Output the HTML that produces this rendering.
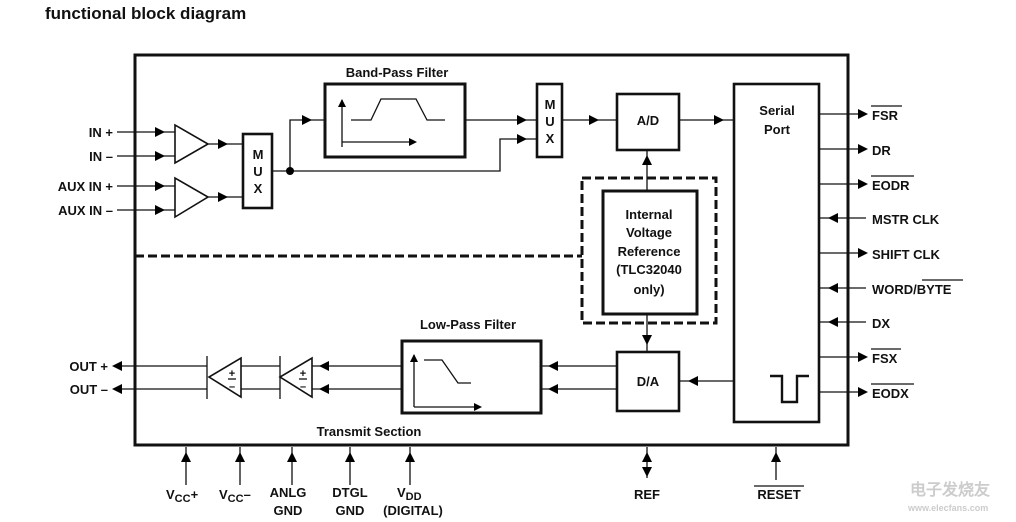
<!DOCTYPE html>
<html><head><meta charset="utf-8"><style>
body{margin:0;background:#fff;}
svg{display:block;font-family:"Liberation Sans",Arial,sans-serif;font-weight:bold;}
</style></head><body>
<svg width="1016" height="522" viewBox="0 0 1016 522" xmlns="http://www.w3.org/2000/svg">
<text x="45" y="19" font-size="17" fill="#111">functional block diagram</text>
<g fill="none" stroke="#111" stroke-width="1.3">
<rect x="135" y="55" width="713" height="390" stroke-width="3"/>
<line x1="117" y1="132" x2="175" y2="132"/><line x1="117" y1="156" x2="175" y2="156"/>
<line x1="117" y1="186" x2="175" y2="186"/><line x1="117" y1="210" x2="175" y2="210"/>
<polygon points="175,125 175,163 208,144" stroke-width="1.6"/>
<polygon points="175,178 175,217 208,197" stroke-width="1.6"/>
<line x1="208" y1="144" x2="243" y2="144"/><line x1="208" y1="197" x2="243" y2="197"/>
<rect x="243" y="134" width="29" height="74" stroke-width="2.6"/>
<polyline points="272,171 290,171 290,120 325,120"/>
<polyline points="290,171 500,171 500,139 537,139"/>
<rect x="325" y="84" width="140" height="73" stroke-width="3"/>
<polyline points="342,147 342,100"/><polyline points="342,142 409,142"/>
<polyline points="351,120 371,120 381,99 416,99 427,120 445,120"/>
<line x1="465" y1="120" x2="537" y2="120"/>
<rect x="537" y="84" width="25" height="73" stroke-width="2.6"/>
<line x1="562" y1="120" x2="617" y2="120"/>
<rect x="617" y="94" width="62" height="56" stroke-width="2.6"/>
<line x1="679" y1="120" x2="734" y2="120"/>
<rect x="734" y="84" width="85" height="338" stroke-width="2.6"/>
<line x1="135" y1="256" x2="582" y2="256" stroke-width="3" stroke-dasharray="9,4"/>
<rect x="582" y="178" width="134" height="145" stroke-width="3" stroke-dasharray="9,4"/>
<rect x="603" y="191" width="94" height="123" stroke-width="3"/>
<line x1="647" y1="191" x2="647" y2="150"/><line x1="647" y1="314" x2="647" y2="352"/>
<rect x="617" y="352" width="62" height="59" stroke-width="2.6"/>
<line x1="734" y1="381" x2="679" y2="381"/>
<line x1="617" y1="366" x2="541" y2="366"/><line x1="617" y1="389" x2="541" y2="389"/>
<rect x="402" y="341" width="139" height="72" stroke-width="3"/>
<line x1="414" y1="407" x2="480" y2="407"/><line x1="414" y1="407" x2="414" y2="355"/>
<polyline points="424,360 442,360 458,383 471,383"/>
<line x1="402" y1="366" x2="312" y2="366"/><line x1="402" y1="389" x2="312" y2="389"/>
<polygon points="312,358 312,397 280,377" stroke-width="1.6"/>
<line x1="280" y1="356" x2="280" y2="399"/>
<line x1="280" y1="366" x2="241" y2="366"/><line x1="280" y1="389" x2="241" y2="389"/>
<polygon points="241,358 241,397 209,377" stroke-width="1.6"/>
<line x1="207" y1="356" x2="207" y2="399"/>
<line x1="207" y1="366" x2="118" y2="366"/><line x1="207" y1="389" x2="118" y2="389"/>
<polyline points="770,376 782,376 782,402 797,402 797,376 809,376" stroke-width="2.4"/>
<line x1="819" y1="114" x2="866" y2="114"/><line x1="819" y1="149" x2="866" y2="149"/>
<line x1="819" y1="184" x2="866" y2="184"/><line x1="819" y1="218" x2="866" y2="218"/>
<line x1="819" y1="253" x2="866" y2="253"/><line x1="819" y1="288" x2="866" y2="288"/>
<line x1="819" y1="322" x2="866" y2="322"/><line x1="819" y1="357" x2="866" y2="357"/>
<line x1="819" y1="392" x2="866" y2="392"/>
<line x1="186" y1="485" x2="186" y2="447"/><line x1="240" y1="485" x2="240" y2="447"/>
<line x1="292" y1="485" x2="292" y2="447"/><line x1="350" y1="485" x2="350" y2="447"/>
<line x1="410" y1="485" x2="410" y2="447"/>
<line x1="647" y1="447" x2="647" y2="478"/><line x1="776" y1="447" x2="776" y2="480"/>
<line x1="228" y1="379" x2="236" y2="379"/><line x1="299" y1="379" x2="307" y2="379"/>
</g>
<g fill="#000">
<path d="M155,127l10,5l-10,5z M155,151l10,5l-10,5z M155,181l10,5l-10,5z M155,205l10,5l-10,5z"/>
<path d="M218,139l10,5l-10,5z M218,192l10,5l-10,5z"/>
<path d="M302,115l10,5l-10,5z M517,115l10,5l-10,5z M517,134l10,5l-10,5z"/>
<path d="M589,115l10,5l-10,5z M714,115l10,5l-10,5z"/>
<path d="M858,109l10,5l-10,5z M858,144l10,5l-10,5z M858,179l10,5l-10,5z M858,248l10,5l-10,5z M858,352l10,5l-10,5z M858,387l10,5l-10,5z"/>
<path d="M828,218l10,-5l0,10z M828,288l10,-5l0,10z M828,322l10,-5l0,10z"/>
<path d="M688,381l10,-5l0,10z M548,366l10,-5l0,10z M548,389l10,-5l0,10z"/>
<path d="M319,366l10,-5l0,10z M319,389l10,-5l0,10z M112,366l10,-5l0,10z M112,389l10,-5l0,10z"/>
<path d="M642,165l5,-10l5,10z M642,335l5,10l5,-10z M338,107l4,-8l4,8z M409,138l8,4l-8,4z M410,362l4,-8l4,8z M474,403l8,4l-8,4z"/>
<path d="M181,462l5,-10l5,10z M235,462l5,-10l5,10z M287,462l5,-10l5,10z M345,462l5,-10l5,10z M405,462l5,-10l5,10z"/>
<path d="M642,462l5,-10l5,10z M642,467l5,10l5,-10z M771,462l5,-10l5,10z"/>
<circle cx="290" cy="171" r="4"/>
</g>
<g font-size="13" fill="#111">
<text x="113" y="137" text-anchor="end">IN +</text>
<text x="113" y="161" text-anchor="end">IN –</text>
<text x="113" y="191" text-anchor="end">AUX IN +</text>
<text x="113" y="215" text-anchor="end">AUX IN –</text>
<text x="108" y="371" text-anchor="end">OUT +</text>
<text x="108" y="394" text-anchor="end">OUT –</text>
<text x="232" y="377" text-anchor="middle" font-size="11">+</text>
<text x="232" y="390" text-anchor="middle" font-size="11">–</text>
<text x="303" y="377" text-anchor="middle" font-size="11">+</text>
<text x="303" y="390" text-anchor="middle" font-size="11">–</text>
<text x="258" y="159" text-anchor="middle">M</text>
<text x="258" y="176" text-anchor="middle">U</text>
<text x="258" y="193" text-anchor="middle">X</text>
<text x="550" y="109" text-anchor="middle">M</text>
<text x="550" y="126" text-anchor="middle">U</text>
<text x="550" y="143" text-anchor="middle">X</text>
<text x="397" y="77" text-anchor="middle">Band-Pass Filter</text>
<text x="468" y="329" text-anchor="middle">Low-Pass Filter</text>
<text x="369" y="436" text-anchor="middle">Transmit Section</text>
<text x="648" y="125" text-anchor="middle">A/D</text>
<text x="648" y="386" text-anchor="middle">D/A</text>
<text x="777" y="115" text-anchor="middle">Serial</text>
<text x="777" y="134" text-anchor="middle">Port</text>
<text x="649" y="219" text-anchor="middle">Internal</text>
<text x="649" y="237" text-anchor="middle">Voltage</text>
<text x="649" y="256" text-anchor="middle">Reference</text>
<text x="649" y="274" text-anchor="middle">(TLC32040</text>
<text x="649" y="294" text-anchor="middle">only)</text>
<text x="872" y="120">FSR</text>
<text x="872" y="155">DR</text>
<text x="872" y="190">EODR</text>
<text x="872" y="224">MSTR CLK</text>
<text x="872" y="259">SHIFT CLK</text>
<text x="872" y="294">WORD/BYTE</text>
<text x="872" y="328">DX</text>
<text x="872" y="363">FSX</text>
<text x="872" y="398">EODX</text>
<text x="166" y="499">V<tspan font-size="11" dy="3">CC</tspan><tspan dy="-3">+</tspan></text>
<text x="219" y="499">V<tspan font-size="11" dy="3">CC</tspan><tspan dy="-3">–</tspan></text>
<text x="288" y="497" text-anchor="middle">ANLG</text>
<text x="288" y="515" text-anchor="middle">GND</text>
<text x="350" y="497" text-anchor="middle">DTGL</text>
<text x="350" y="515" text-anchor="middle">GND</text>
<text x="397" y="497">V<tspan font-size="11" dy="3">DD</tspan></text>
<text x="413" y="515" text-anchor="middle">(DIGITAL)</text>
<text x="647" y="499" text-anchor="middle">REF</text>
<text x="779" y="499" text-anchor="middle">RESET</text>
</g>
<g stroke="#111" stroke-width="1.3">
<line x1="871" y1="106" x2="902" y2="106"/><line x1="871" y1="176" x2="914" y2="176"/>
<line x1="922" y1="280" x2="963" y2="280"/><line x1="871" y1="349" x2="901" y2="349"/>
<line x1="871" y1="384" x2="914" y2="384"/><line x1="754" y1="486" x2="804" y2="486"/>
</g>
<text x="910" y="495" font-size="16" fill="#ccc">电子发烧友</text>
<text x="908" y="511" font-size="9" fill="#ccc">www.elecfans.com</text>
</svg>
</body></html>
